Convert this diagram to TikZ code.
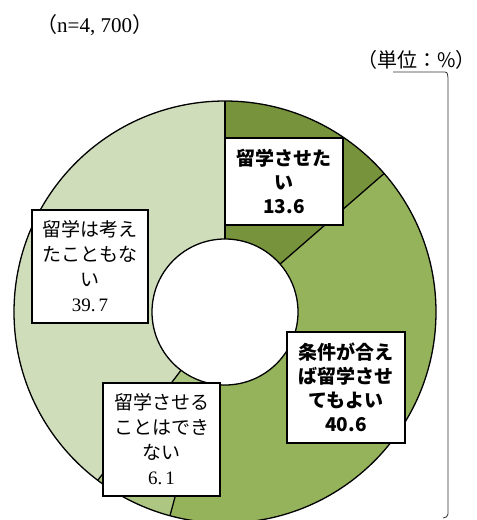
\documentclass[tikz,border=0pt]{standalone}
\usepackage{fontspec}
\setmainfont{Liberation Serif}
\newfontfamily\cjk{Noto Sans CJK JP}
\definecolor{gA}{HTML}{77933C}
\definecolor{gB}{HTML}{95B35B}
\definecolor{gC}{HTML}{ADC682}
\definecolor{gD}{HTML}{D0DDBA}
\begin{document}
\begin{tikzpicture}[x=1pt,y=1pt,
  seg/.style={draw=black,line width=1.3pt,line join=round},
  lbl/.style={draw=black,fill=white,line width=1.5pt,align=center,inner sep=0pt,
    font=\cjk\fontsize{19}{25}\selectfont},
  lblb/.style={lbl,font=\cjk\bfseries\fontsize{19}{24}\selectfont},
  hdr/.style={inner sep=0pt,font=\cjk\fontsize{21}{23}\selectfont}]
\useasboundingbox (0,0) rectangle (477,-520);
\clip (0,0) rectangle (477,-520);
\begin{scope}[shift={(225,-312)}]
  \def\R{211}\def\r{73}
  \fill[gA] (90:\R) arc[start angle=90,end angle=41.04,radius=\R] -- (41.04:\r) arc[start angle=41.04,end angle=90,radius=\r] -- cycle;
  \fill[gB] (41.04:\R) arc[start angle=41.04,end angle=-105.12,radius=\R] -- (-105.12:\r) arc[start angle=-105.12,end angle=41.04,radius=\r] -- cycle;
  \fill[gC] (-105.12:\R) arc[start angle=-105.12,end angle=-127.08,radius=\R] -- (-127.08:\r) arc[start angle=-127.08,end angle=-105.12,radius=\r] -- cycle;
  \fill[gD] (-127.08:\R) arc[start angle=-127.08,end angle=-270,radius=\R] -- (90:\r) arc[start angle=90,end angle=-127.08,radius=\r] -- cycle;
  \draw[seg] (0,0) circle[radius=\R];
  \draw[seg,fill=white] (0,0) circle[radius=\r];
  \foreach \a in {90,41.04,-105.12,-127.08} \draw[seg] (\a:\r) -- (\a:\R);
\end{scope}
\node[lblb,minimum width=118,minimum height=87] (want) at (284,-181.5) {留学させた\\い\\13.6};
\node[lblb,minimum width=118,minimum height=111] (cond) at (346,-387.5) {条件が合え\\ば留学させ\\てもよい\\40.6};
\node[lbl,minimum width=116,minimum height=113] (never) at (90,-266.5) {留学は考え\\たこともな\\い\\{\rmfamily 39.\,7}};
\node[lbl,minimum width=117,minimum height=113] (cannot) at (161.5,-439.5) {留学させる\\ことはでき\\ない\\{\rmfamily 6.\,1}};
\node[hdr,anchor=west] (n) at (36,-25) {（{\rmfamily n=4, 700}）};
\node[hdr,anchor=east,font=\cjk\fontsize{20}{22}\selectfont] (unit) at (476,-60) {（単位：\%）};
\coordinate (b1) at (393,-72);
\coordinate (b2) at (448,-78);
\coordinate (b3) at (448,-514);
\coordinate (b4) at (443,-518);
\draw[black!80,line width=0.8pt] (b1) -- (445,-72) to[out=0,in=90] (b2) -- (b3) to[out=-90,in=0] (b4);
\end{tikzpicture}
\end{document}
